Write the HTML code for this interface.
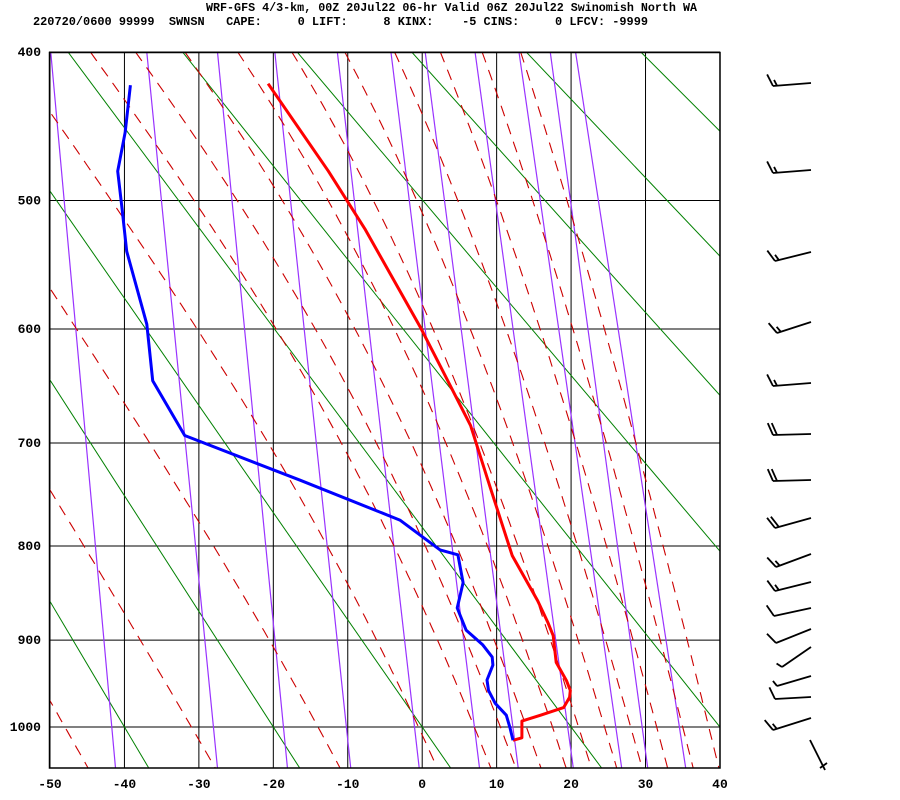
<!DOCTYPE html>
<html><head><meta charset="utf-8"><style>
html,body{margin:0;padding:0;background:#fff;}
svg{display:block;font-family:"Liberation Mono",monospace;font-weight:bold;}
</style></head><body>
<svg id="chart" width="900" height="800" viewBox="0 0 900 800" xmlns="http://www.w3.org/2000/svg">
<text x="206" y="11" font-size="11.5" textLength="491" lengthAdjust="spacingAndGlyphs" xml:space="preserve">WRF-GFS 4/3-km, 00Z 20Jul22 06-hr Valid 06Z 20Jul22 Swinomish North WA</text>
<text x="33" y="25" font-size="11.5" textLength="615" lengthAdjust="spacingAndGlyphs" xml:space="preserve">220720/0600 99999  SWNSN   CAPE:     0 LIFT:     8 KINX:    -5 CINS:     0 LFCV: -9999</text>
<defs><clipPath id="plotclip"><rect x="49.5" y="52.5" width="670.5" height="715.5"/></clipPath></defs>
<g id="grid"></g>
<g id="bg" clip-path="url(#plotclip)"></g>
<g id="prof" clip-path="url(#plotclip)"></g>
<rect x="49.5" y="52.5" width="670.5" height="715.5" fill="none" stroke="#000" stroke-width="1.5"/>
<g id="axes"></g>
<g id="barbs" stroke="#000" stroke-width="1.8" fill="none"></g>
</svg>
<script>
// ---- data ----
const tempTicks = [-50,-40,-30,-20,-10,0,10,20,30,40];
const presTicks = [400,500,600,700,800,900,1000];
const dryThetaC = [-40,-20,0,20,40,60,80,100,120,140,160,180,200];
const mixTop = [-49.9,-37.0,-27.5,-19.8,-11.4,-4.2,0.4,7.1,13.0,17.2,20.6];
const mixBot = [-41.2,-27.5,-18.1,-9.6,-0.4,7.7,12.9,20.3,26.8,30.3,35.4];
const moistStart = [-48,-31,-14,-0.5,7,10.5,14,17.5,21,24.5,28,31.5,35,38.5];
const tempP = [420,479,521,598,631,684,741,810,857,881,895,925,946,957,965,977,986,993,1013,1016];
const tempT = [-20.7,-12.6,-7.7,-0.3,2.4,6.5,9.1,12.1,15.5,16.9,17.6,18.0,19.4,19.9,19.8,19.0,15.9,13.4,13.4,12.2];
const dewP = [421,452,479,507,538,596,644,693,735,774,804,809,838,865,889,905,919,928,945,957,972,986,1001,1016];
const dewT = [-39.2,-39.9,-40.9,-40.3,-39.7,-37.0,-36.2,-31.9,-16.4,-3.0,2.4,4.8,5.5,4.7,5.9,8.1,9.4,9.5,8.7,8.9,9.8,11.3,11.8,12.2];

const NS='http://www.w3.org/2000/svg';
const K=0.286, P0=Math.pow(400,K), S=675/(Math.pow(1000,K)-P0);
function X(t){return 50+(t+50)*7.444;}
function Y(p){return 52+(Math.pow(p,K)-P0)*S;}
function el(tag,attrs,parent){const e=document.createElementNS(NS,tag);for(const k in attrs)e.setAttribute(k,attrs[k]);parent.appendChild(e);return e;}
const grid=document.getElementById('grid'),bg=document.getElementById('bg'),prof=document.getElementById('prof'),axes=document.getElementById('axes'),barbs=document.getElementById('barbs');

tempTicks.forEach(t=>{
  const l=el('line',{x1:X(t),x2:X(t),y1:52,y2:768,stroke:'#000','stroke-width':1},grid);
  
  
  const tx=el('text',{x:X(t),y:788,'text-anchor':'middle','font-size':13},axes);
  tx.textContent=t;
  
  
});
presTicks.forEach(p=>{
  const l=el('line',{x1:49,x2:720,y1:Y(p),y2:Y(p),stroke:'#000','stroke-width':1},grid);
  
  
  const tx=el('text',{x:41,y:Y(p)+4,'text-anchor':'end','font-size':13},axes);
  tx.textContent=p;
  
  
});
dryThetaC.forEach(th=>{
  const tk=th+273.15;
  const t1=tk*Math.pow(0.4,K)-273.15, t2=tk*Math.pow(1.05,K)-273.15;
  const l=el('line',{x1:X(t1),y1:Y(400),x2:X(t2),y2:Y(1050),stroke:'#008000','stroke-width':1},bg);
  
  
});
mixTop.forEach((t,i)=>{
  const l=el('line',{x1:X(t),y1:Y(400),x2:X(mixBot[i]),y2:Y(1050),stroke:'#9933ff','stroke-width':1.2},bg);
  
  
});
function es(T){return 6.112*Math.exp(17.67*T/(T+243.5));}
function dTdp(T,p){const Tk=T+273.15,e=es(T),rs=0.622*e/(p-e),Rd=287,cp=1005,Lv=2.5e6;
  return (Rd*Tk+Lv*rs)/(p*(cp+Lv*Lv*rs*0.622/(Rd*Tk*Tk)));}
moistStart.forEach(t0=>{
  let pts=[];let T=t0;
  for(let p=1000;p>=400;p-=5){pts.push([p,T]);T-=dTdp(T,p)*5;}
  pts.reverse();T=t0;
  for(let p=1005;p<=1050;p+=5){T+=dTdp(T,p-5)*5;pts.push([p,T]);}
  const l=el('polyline',{points:pts.map(q=>X(q[1]).toFixed(1)+','+Y(q[0]).toFixed(1)).join(' '),fill:'none',stroke:'#cc0000','stroke-width':1.1,'stroke-dasharray':'11,8'},bg);
  
  
});
const tl=el('polyline',{points:tempP.map((p,i)=>X(tempT[i]).toFixed(1)+','+Y(p).toFixed(1)).join(' '),fill:'none',stroke:'#ff0000','stroke-width':3,'stroke-linejoin':'round'},prof);


const dl=el('polyline',{points:dewP.map((p,i)=>X(dewT[i]).toFixed(1)+','+Y(p).toFixed(1)).join(' '),fill:'none',stroke:'#0000ff','stroke-width':3,'stroke-linejoin':'round'},prof);


const barbList=[
 [773,86,811,83,[1,0.5]],[773,173,811,170,[1,0.5]],[775,261,811,252,[1,0.5]],[777,333,811,322,[1,0.5]],
 [773,386,811,383,[1,0.5]],[773,435,811,434,[1,1]],[773,481,811,480,[1,1]],[775,528,811,518,[1,1]],
 [776,567,811,554,[1,0.5]],[775,591,811,582,[1,0.5]],[774,616,811,608,[1]],[776,643,811,629,[1]],
 [782,667,811,647,[0.5]],[777,686,811,676,[0.5]],[775,699,811,697,[1]],[773,730,811,718,[1,0.5]]];
barbList.forEach(b=>{
  const g=el('g',{},barbs);
  
  
  el('line',{x1:b[0],y1:b[1],x2:b[2],y2:b[3]},g);
  const dx=b[2]-b[0],dy=b[3]-b[1],L=Math.hypot(dx,dy),ux=dx/L,uy=dy/L;
  let px=uy,py=-ux;
  const fx=px*0.92-ux*0.38, fy=py*0.92-uy*0.38;
  b[4].forEach((f,i)=>{
    const sx=b[0]+ux*i*4, sy=b[1]+uy*i*4, len=f*13;
    el('line',{x1:sx,y1:sy,x2:sx+fx*len,y2:sy+fy*len},g);
  });
});
const lb=el('g',{},barbs);


el('line',{x1:810,y1:740,x2:825,y2:770},lb);
el('line',{x1:820,y1:768,x2:827,y2:763},lb);
</script>
</body></html>
